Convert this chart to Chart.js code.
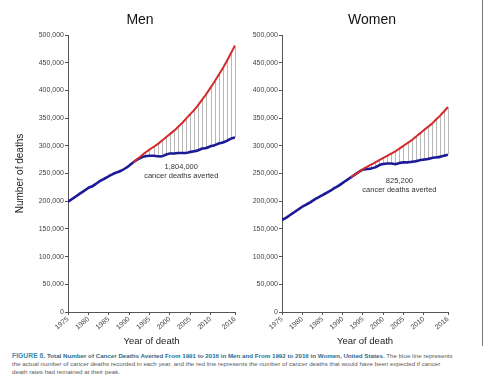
<!DOCTYPE html>
<html>
<head>
<meta charset="utf-8">
<script src="https://cdn.jsdelivr.net/npm/chart.js@4.4.1/dist/chart.umd.min.js"></script>
<style>
  html, body { margin: 0; padding: 0; background: #fff; }
  body { width: 484px; height: 385px; position: relative; overflow: hidden; font-family: 'Liberation Sans', Arial, sans-serif; }
  #men { position: absolute; left: 0; top: 0; }
  #women { position: absolute; left: 242px; top: 0; }
  .edge { position: absolute; left: 482px; top: 0; width: 1px; height: 346px; background: #777; }
  .caption { position: absolute; left: 12px; top: 352px; font-size: 6.2px; line-height: 8px; color: #5a5a5a; white-space: nowrap; }
  .caption .fig { color: #3c8cb4; font-weight: bold; font-size: 6.8px; }
  .caption .ttl { color: #2f6a8a; font-weight: bold; }
</style>
</head>
<body>
<canvas id="men" width="242" height="350"></canvas>
<canvas id="women" width="242" height="350"></canvas>
<div class="edge"></div>
<div class="caption">
  <span class="fig">FIGURE 6.</span> <span class="ttl">Total Number of Cancer Deaths Averted From 1991 to 2016 in Men and From 1992 to 2016 in Women, United States.</span> The blue line represents<br>
  the actual number of cancer deaths recorded in each year, and the red line represents the number of cancer deaths that would have been expected if cancer<br>
  death rates had remained at their peak.
</div>
<script>
// données (milliers -> valeurs complètes plus bas)
const years = [1975, 1976, 1977, 1978, 1979, 1980, 1981, 1982, 1983, 1984,
               1985, 1986, 1987, 1988, 1989, 1990, 1991, 1992, 1993, 1994,
               1995, 1996, 1997, 1998, 1999, 2000, 2001, 2002, 2003, 2004,
               2005, 2006, 2007, 2008, 2009, 2010, 2011, 2012, 2013, 2014,
               2015, 2016];
const xTicks = [1975, 1980, 1985, 1990, 1995, 2000, 2005, 2010, 2016];

const menActual = [199, 204, 209, 214, 219, 224, 227, 232, 237, 241,
                   245, 249, 252, 255, 259, 264, 270, 275, 279, 281,
                   282, 282, 281, 281, 284, 286, 286, 287, 287, 287,
                   289, 290, 292, 295, 296, 299, 301, 304, 306, 309,
                   313, 315];
const menExpected = [null, null, null, null, null, null, null, null, null, null,
                     null, null, null, null, null, null, 270, 276, 282, 288,
                     293, 298, 303, 309, 315, 321, 327, 334, 341, 349,
                     357, 365, 374, 384, 394, 405, 416, 428, 440, 453,
                     467, 481];

const womenActual = [166, 170, 175, 180, 185, 190, 194, 198, 203, 207,
                     211, 215, 219, 224, 228, 233, 238, 243, 248, 253,
                     257, 258, 259, 261, 265, 267, 268, 268, 267, 269,
                     270, 270, 271, 272, 274, 275, 276, 278, 279, 280,
                     282, 284];
const womenExpected = [null, null, null, null, null, null, null, null, null, null,
                       null, null, null, null, null, null, null, 243, 248, 253,
                       258, 262, 266, 270, 274, 278, 282, 286, 290, 295,
                       300, 305, 310, 316, 322, 328, 334, 340, 347, 354,
                       362, 370];

const FONT = "'Liberation Sans', Arial, sans-serif";

function points(vals) {
    const out = [];
    vals.forEach((v, i) => {
        if (v !== null) out.push({ x: years[i], y: v * 1000 });
    });
    return out;
}

// traits verticaux gris entre la courbe rouge et la bleue
const dropLines = {
    id: 'dropLines',
    beforeDatasetsDraw(chart) {
        const { ctx, scales } = chart;
        const act = chart.data.datasets[1].data;
        const exp = chart.data.datasets[0].data;
        ctx.save();
        ctx.strokeStyle = '#b8b8b8';
        ctx.lineWidth = 1;
        exp.forEach(p => {
            const a = act.find(q => q.x === p.x);
            if (!a || p.y - a.y < 1500) return;
            const x = Math.round(scales.x.getPixelForValue(p.x)) + 0.5;
            ctx.beginPath();
            ctx.moveTo(x, scales.y.getPixelForValue(a.y));
            ctx.lineTo(x, scales.y.getPixelForValue(p.y));
            ctx.stroke();
        });
        ctx.restore();
    }
};

// titre + texte "deaths averted"
const texts = {
    id: 'texts',
    afterDraw(chart, args, opts) {
        const { ctx, scales } = chart;
        ctx.save();
        ctx.textAlign = 'center';
        ctx.textBaseline = 'middle';
        ctx.fillStyle = '#111';
        ctx.font = '14px ' + FONT;
        ctx.fillText(opts.title, opts.titleX, 20);
        ctx.fillStyle = '#333';
        ctx.font = '7.5px ' + FONT;
        const x = scales.x.getPixelForValue(opts.noteAt[0]);
        const y = scales.y.getPixelForValue(opts.noteAt[1]);
        ctx.fillText(opts.note, x, y);
        ctx.fillText('cancer deaths averted', x, y + 9);
        ctx.restore();
    }
};

function makeChart(id, actual, expected, cfg) {
    const ctx = document.getElementById(id).getContext('2d');
    return new Chart(ctx, {
        type: 'line',
        data: {
            datasets: [{
                data: points(expected),
                borderColor: '#d42a2a',
                borderWidth: 2,
                pointRadius: 0,
                tension: 0.2
            }, {
                data: points(actual),
                borderColor: '#1c1a96',
                borderWidth: 2.6,
                pointRadius: 0,
                tension: 0.2
            }]
        },
        options: {
            responsive: false,
            animation: false,
            layout: { padding: { top: 35, right: cfg.right, bottom: 3, left: 0 } },
            plugins: {
                legend: { display: false },
                tooltip: { enabled: false },
                texts: { title: cfg.title, titleX: cfg.titleX, note: cfg.note, noteAt: cfg.noteAt }
            },
            scales: {
                x: {
                    type: 'linear',
                    min: 1975,
                    max: 2016,
                    afterBuildTicks: s => { s.ticks = xTicks.map(v => ({ value: v })); },
                    afterFit: s => { s.height = 35; },
                    grid: { display: true, drawOnChartArea: false, tickLength: 3, color: '#555' },
                    border: { color: '#555', width: 1 },
                    ticks: {
                        autoSkip: false,
                        maxRotation: 40,
                        minRotation: 40,
                        padding: 0,
                        color: '#444',
                        font: { family: FONT, size: 7 },
                        callback: v => String(v)
                    },
                    title: {
                        display: true,
                        text: 'Year of death',
                        color: '#222',
                        padding: 0,
                        font: { family: FONT, size: 9.5 }
                    }
                },
                y: {
                    min: 0,
                    max: 500000,
                    afterFit: s => { s.width = cfg.yWidth; },
                    grid: { display: true, drawOnChartArea: false, tickLength: 3, color: '#555' },
                    border: { color: '#555', width: 1 },
                    ticks: {
                        stepSize: 50000,
                        padding: 1,
                        color: '#444',
                        font: { family: FONT, size: 7 },
                        callback: v => v.toLocaleString('en-US')
                    },
                    title: {
                        display: cfg.yTitle,
                        text: 'Number of deaths',
                        color: '#222',
                        padding: { top: 14, bottom: 0 },
                        font: { family: FONT, size: 10 }
                    }
                }
            }
        },
        plugins: [dropLines, texts]
    });
}

makeChart('men', menActual, menExpected, {
    title: 'Men', titleX: 140, right: 7, yWidth: 68, yTitle: true,
    note: '1,804,000', noteAt: [2002.8, 261000]
});
makeChart('women', womenActual, womenExpected, {
    title: 'Women', titleX: 130, right: 36, yWidth: 40, yTitle: false,
    note: '825,200', noteAt: [2004, 237000]
});
</script>
</body>
</html>
